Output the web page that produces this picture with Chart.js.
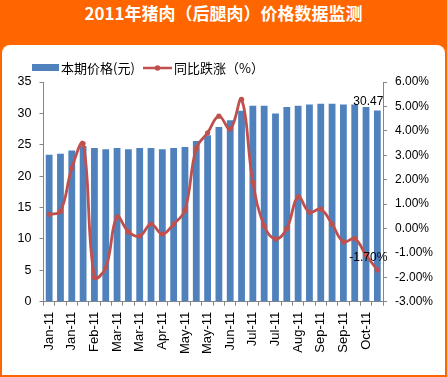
<!DOCTYPE html>
<html><head><meta charset="utf-8">
<script src="https://cdn.jsdelivr.net/npm/chart.js@4.4.1/dist/chart.umd.min.js"></script>
<style>
html,body{margin:0;padding:0;background:#fff;}
#frame{position:relative;width:447px;height:377px;background:#FF6600;overflow:hidden;}
#panel{position:absolute;left:2px;top:45px;width:443px;height:330px;background:#fff;border-top-left-radius:8px;border-top-right-radius:8px;}
#title{position:absolute;left:0;top:0;width:447px;height:45px;line-height:50px;text-align:center;color:#fff;font:bold 17px "Noto Sans CJK SC",sans-serif;}
canvas{position:absolute;left:0;top:0;}
</style></head><body>
<div id="frame"><div id="panel"></div><div id="title">2011年猪肉（后腿肉）价格数据监测</div><canvas id="c" width="447" height="377"></canvas></div>
<script>
const categories = ['Jan-11','Jan-11','Jan-11','Feb-11','Feb-11','Feb-11','Mar-11','Mar-11','Mar-11','Apr-11','Apr-11','Apr-11','May-11','May-11','May-11','Jun-11','Jun-11','Jun-11','Jul-11','Jul-11','Jul-11','Aug-11','Aug-11','Aug-11','Sep-11','Sep-11','Sep-11','Oct-11','Oct-11','Oct-11'];
const priceValues = [23.4,23.55,24.1,24.8,24.5,24.3,24.5,24.3,24.5,24.5,24.3,24.5,24.65,25.6,26.5,27.85,28.9,30.4,31.2,31.2,30.0,31.0,31.2,31.4,31.55,31.55,31.4,31.4,31.0,30.47];
const yoyValues = [0.58,0.70,2.47,3.48,-2.0,-1.61,0.48,-0.14,-0.31,0.18,-0.23,0.18,0.75,3.28,3.92,4.6,4.07,5.29,1.9,0.11,-0.43,0.0,1.30,0.66,0.79,0.18,-0.55,-0.42,-1.09,-1.70];
const seriesNames = ['本期价格(元)','同比跌涨（%）'];
const leftTicks = {min:0,max:35,step:5};
const rightTicks = {min:-3,max:6,step:1};

const BAR = '#4F81BD', LINE = '#C0504D', AXIS = '#868686';
const FONT = '"Liberation Sans", Arial, sans-serif';

const overlay = {
  id:'overlay',
  afterDatasetsDraw(chart){
    const ctx = chart.ctx;
    ctx.save();
    ctx.fillStyle = BAR;
    ctx.fillRect(32,64,27,7);
    ctx.fillStyle = '#000';
    ctx.font = '13px "Noto Sans CJK SC", sans-serif';
    ctx.textBaseline = 'middle';
    ctx.textAlign = 'left';
    ctx.fillText(seriesNames[0],61,68);
    ctx.strokeStyle = LINE; ctx.lineWidth = 2.5;
    ctx.beginPath(); ctx.moveTo(143,68); ctx.lineTo(172,68); ctx.stroke();
    ctx.fillStyle = LINE;
    ctx.beginPath(); ctx.arc(157.5,68,2.8,0,Math.PI*2); ctx.fill();
    ctx.fillStyle = '#000';
    ctx.fillText(seriesNames[1],174,68);
    const n = priceValues.length-1;
    const bar = chart.getDatasetMeta(0).data[n];
    const pt = chart.getDatasetMeta(1).data[n];
    ctx.font = '12px '+FONT;
    ctx.textAlign = 'center';
    ctx.fillText(priceValues[n].toFixed(2), bar.x-9, bar.y-9);
    ctx.fillText(yoyValues[n].toFixed(2)+'%', pt.x-9, pt.y-12);
    ctx.restore();
  }
};

new Chart(document.getElementById('c'),{
  type:'bar',
  data:{
    labels:categories,
    datasets:[
      {type:'bar',label:seriesNames[0],data:priceValues,backgroundColor:BAR,yAxisID:'y',order:1,
       categoryPercentage:1,barPercentage:0.6},
      {type:'line',label:seriesNames[1],data:yoyValues,borderColor:LINE,backgroundColor:LINE,borderWidth:2.8,
       pointRadius:2.6,pointBackgroundColor:LINE,pointBorderColor:LINE,pointBorderWidth:0,tension:0.4,yAxisID:'y1',order:0}
    ]
  },
  options:{
    responsive:false,animation:false,devicePixelRatio:1,
    layout:{padding:{top:82,left:0,right:0,bottom:0}},
    plugins:{legend:{display:false},tooltip:{enabled:false}},
    scales:{
      x:{
        grid:{display:true,drawOnChartArea:false,drawTicks:true,tickLength:4,color:AXIS,offset:true},
        border:{color:AXIS,width:1},
        ticks:{autoSkip:false,minRotation:90,maxRotation:90,padding:6,color:'#000',font:{family:FONT,size:13},
          callback(v,i){return i%2===0?categories[i]:'';}},
        afterFit(s){s.height=75.3;}
      },
      y:{
        position:'left',min:leftTicks.min,max:leftTicks.max,
        grid:{drawOnChartArea:false,tickLength:4,color:AXIS},
        border:{color:AXIS,width:1},
        ticks:{stepSize:leftTicks.step,padding:8,color:'#000',font:{family:FONT,size:12.5}},
        afterFit(s){s.width=43.5;}
      },
      y1:{
        position:'right',min:rightTicks.min,max:rightTicks.max,
        grid:{drawOnChartArea:false,tickLength:4,color:AXIS},
        border:{color:AXIS,width:1},
        ticks:{stepSize:rightTicks.step,padding:8,color:'#000',font:{family:FONT,size:12},
          callback(v){return v.toFixed(2)+'%';}},
        afterFit(s){s.width=64;}
      }
    }
  },
  plugins:[overlay]
});
</script>
</body></html>
